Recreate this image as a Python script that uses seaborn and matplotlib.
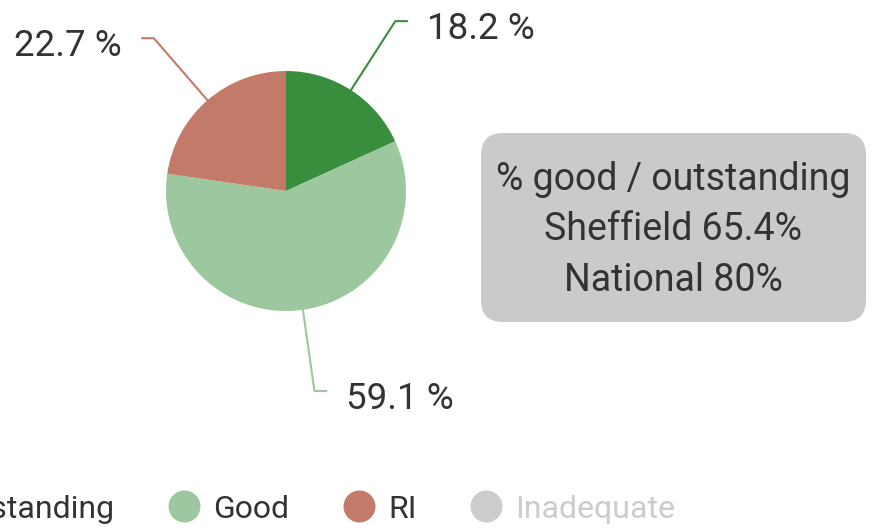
"""Ofsted rating split for Sheffield, drawn as a pie with a side note."""

import numpy as np
import matplotlib
matplotlib.use('Agg')
import matplotlib.pyplot as plt
from matplotlib.lines import Line2D
from matplotlib.patches import FancyBboxPatch
import seaborn as sns


CATEGORIES = ['Outstanding', 'Good', 'RI', 'Inadequate']
SHARES = [18.2, 59.1, 22.7, 0.0]
COLORS = ['#388E3C', '#9DC79E', '#C47A68', '#CCCCCC']
NOTE_LINES = ['% good / outstanding', 'Sheffield 65.4%', 'National 80%']

TEXT_COLOR = '#333333'
W, H = 883, 530

sns.set_style('white')
plt.rcParams['font.family'] = ['Roboto', 'DejaVu Sans']

fig = plt.figure(figsize=(W / 100, H / 100), dpi=100)
ax = fig.add_axes([0, 0, 1, 1])

# pie (zero slices left out, they only show up in the legend)
cx, cy, r = 286, H - 191, 120
shown = [(c, v, col) for c, v, col in zip(CATEGORIES, SHARES, COLORS) if v > 0]
wedges, _ = ax.pie([v for _, v, _ in shown], colors=[col for _, _, col in shown],
                   center=(cx, cy), radius=r, startangle=90, counterclock=False,
                   wedgeprops=dict(linewidth=0))

# pie() resets the view, so fix the pixel frame afterwards
ax.set_xlim(0, W)
ax.set_ylim(0, H)
ax.set_aspect('equal')
ax.axis('off')

# leader lines + labels
for w, (name, val, col) in zip(wedges, shown):
    mid = np.deg2rad((w.theta1 + w.theta2) / 2)
    x0, y0 = cx + r * np.cos(mid), cy + r * np.sin(mid)
    x1, y1 = cx + 202 * np.cos(mid), cy + 202 * np.sin(mid)
    side = 1 if np.cos(mid) >= 0 else -1
    x2 = x1 + side * 12
    ax.plot([x0, x1, x2], [y0, y1, y1], color=col, lw=1.5,
            solid_joinstyle='round', solid_capstyle='round')
    ax.text(x2 + side * 20, y1 - 8, f'{val:.1f} %', fontsize=26.5,
            color=TEXT_COLOR, ha='left' if side > 0 else 'right', va='center')

# note box
box = FancyBboxPatch((481, H - 322), 385, 189,
                     boxstyle='round,pad=0,rounding_size=22',
                     fc='#C9CACA', ec='none')
ax.add_patch(box)
ax.text(673, H - 230, '\n'.join(NOTE_LINES), fontsize=27, color=TEXT_COLOR,
        ha='center', va='center', linespacing=1.48)

# legend along the bottom (first entry runs off the left edge, as in the source)
handles = [Line2D([], [], ls='none', marker='o', markersize=22,
                  markerfacecolor=col, markeredgecolor=col) for col in COLORS]
leg_kw = dict(loc='center left', ncol=4, frameon=False, borderpad=0,
              handletextpad=0.42, columnspacing=1.68, handlelength=1.0,
              prop=dict(size=23))
leg = fig.legend(handles, CATEGORIES, bbox_to_anchor=(0, 1 - 509 / H), **leg_kw)
for txt, val in zip(leg.get_texts(), SHARES):
    txt.set_color(TEXT_COLOR if val > 0 else '#CCCCCC')

# slide the legend so the "Good" label starts where it does in the source
fig.canvas.draw()
dx = 213 - leg.get_texts()[1].get_window_extent().x0
leg.set_bbox_to_anchor((dx / W, 1 - 509 / H), transform=fig.transFigure)

fig.savefig('out.png', dpi=100)
